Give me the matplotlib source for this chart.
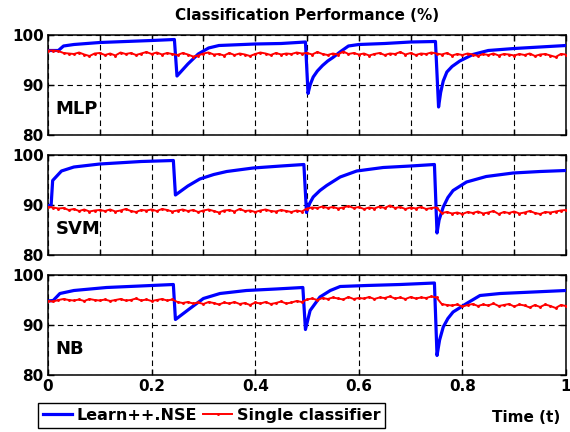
import matplotlib
matplotlib.use("Agg")
import matplotlib.pyplot as plt
import numpy as np

# single classifier: one reading per time step (101 steps)
t_single = np.arange(101) / 100

mlp_single = [96.9, 96.9, 96.8, 96.4, 96.3, 96.2, 96.5, 96.1, 95.8, 96.3,
              96.4, 96.0, 96.3, 95.9, 96.5, 96.2, 96.4, 96.0, 96.3, 96.6,
              96.2, 96.5, 96.1, 96.4, 96.2, 96.0, 96.4, 96.1, 95.7, 95.9,
              96.3, 96.5, 96.1, 96.2, 95.9, 96.4, 96.0, 96.3, 96.1, 95.8,
              96.2, 96.5, 96.3, 96.0, 96.4, 96.1, 96.3, 96.2, 96.5, 96.3,
              96.4, 96.1, 96.6, 96.2, 96.0, 96.3, 96.1, 96.7, 96.2, 96.4,
              96.1, 96.3, 95.9, 96.2, 96.4, 96.0, 96.3, 96.2, 96.6, 96.1,
              96.4, 96.0, 96.3, 96.2, 96.5, 96.3, 96.1, 96.4, 95.9, 96.2,
              96.0, 96.3, 96.1, 95.8, 96.2, 96.0, 96.3, 95.9, 96.2, 96.1,
              95.9, 96.2, 96.0, 96.3, 95.8, 96.1, 96.2, 95.9, 95.6, 96.2, 96.1]

svm_single = [89.6, 89.5, 89.3, 89.4, 89.0, 89.2, 88.8, 89.1, 88.7, 88.9,
              89.0, 88.8, 89.1, 88.7, 88.9, 89.2, 88.8, 88.6, 89.0, 88.9,
              89.1, 88.8, 89.2, 89.0, 88.7, 88.9, 89.1, 88.8, 89.0, 88.6,
              88.9, 89.1, 88.8, 88.5, 88.9, 89.0, 88.7, 89.2, 88.8, 88.9,
              88.6, 88.9, 89.1, 88.8, 88.7, 89.0, 88.8, 88.6, 88.9, 88.7,
              89.3, 89.5, 89.4, 89.7, 89.4, 89.6, 89.3, 89.5, 89.8, 89.4,
              89.6, 89.2, 89.5, 89.3, 89.7, 89.4, 89.9, 89.4, 89.6, 89.2,
              89.5, 89.3, 89.6, 89.2, 89.4, 89.5, 88.4, 88.6, 88.3, 88.5,
              88.2, 88.6, 88.4, 88.7, 88.3, 88.5, 88.8, 88.2, 88.6, 88.4,
              88.7, 88.3, 88.5, 88.8, 88.4, 88.2, 88.6, 88.5, 88.7, 88.9, 89.0]

nb_single = [94.8, 94.7, 95.0, 95.2, 95.0, 94.9, 95.1, 94.8, 95.2, 95.0,
             94.9, 95.1, 94.8, 95.0, 95.2, 94.9, 95.0, 95.3, 94.9, 95.1,
             94.8, 95.0, 95.2, 94.9, 95.1, 94.6, 94.4, 94.6, 94.3, 94.5,
             94.2, 94.6, 94.4, 94.1, 94.5, 94.3, 94.6, 94.2, 94.4, 94.0,
             94.5, 94.3, 94.6, 94.2, 94.4, 94.7, 94.3, 94.5, 94.8, 94.6,
             95.1, 95.3, 95.0, 95.4, 95.2, 95.5, 95.3, 95.1, 95.6, 95.2,
             95.4, 95.3, 95.6, 95.2, 95.5, 95.4, 95.7, 95.3, 95.5, 95.2,
             95.6, 95.3, 95.5, 95.4, 95.7, 95.5, 94.2, 94.0, 93.9, 94.1,
             93.7, 94.0, 94.2, 93.8, 94.1, 93.9, 94.3, 93.8, 94.0, 94.2,
             93.7, 94.1, 93.9, 93.5, 94.0, 93.6, 94.1, 93.8, 93.4, 94.0, 93.8]

# Learn++.NSE readings (denser around the drift points)
mlp_nse_t = [0, 0.02, 0.03, 0.05, 0.1, 0.15, 0.2, 0.244, 0.249, 0.27, 0.29,
             0.31, 0.33, 0.4, 0.45, 0.497, 0.502, 0.506, 0.512, 0.52, 0.53,
             0.54, 0.55, 0.565, 0.58, 0.6, 0.65, 0.7, 0.748, 0.754, 0.758,
             0.763, 0.77, 0.78, 0.795, 0.82, 0.85, 0.9, 0.95, 1.0]
mlp_nse = [96.9, 96.9, 97.8, 98.1, 98.5, 98.7, 98.9, 99.1, 91.8, 94.2, 96.2,
           97.4, 97.9, 98.2, 98.3, 98.6, 88.3, 90.0, 91.6, 92.8, 93.9,
           94.8, 95.5, 96.7, 97.8, 98.1, 98.3, 98.6, 98.7, 85.6, 88.5,
           90.8, 92.6, 93.7, 94.8, 96.1, 96.9, 97.3, 97.6, 97.9]

svm_nse_t = [0, 0.006, 0.009, 0.026, 0.05, 0.1, 0.18, 0.242, 0.246, 0.27,
             0.293, 0.32, 0.345, 0.396, 0.45, 0.494, 0.499, 0.505, 0.512,
             0.525, 0.538, 0.564, 0.596, 0.647, 0.7, 0.746, 0.751, 0.755,
             0.763, 0.772, 0.782, 0.808, 0.846, 0.898, 0.95, 1.0]
svm_nse = [89.9, 89.9, 94.9, 96.8, 97.6, 98.2, 98.7, 98.9, 92.0, 93.8,
           95.2, 96.1, 96.7, 97.4, 97.8, 98.1, 88.5, 90.3, 91.6,
           92.9, 93.9, 95.6, 96.8, 97.5, 97.8, 98.1, 84.4, 87.0,
           89.6, 91.5, 92.9, 94.6, 95.7, 96.4, 96.7, 96.9]

nb_nse_t = [0, 0.01, 0.023, 0.05, 0.113, 0.178, 0.242, 0.246, 0.274, 0.3,
            0.332, 0.383, 0.44, 0.492, 0.497, 0.506, 0.525, 0.545, 0.564,
            0.615, 0.68, 0.746, 0.751, 0.756, 0.763, 0.772, 0.782, 0.808,
            0.834, 0.873, 0.937, 1.0]
nb_nse = [94.8, 94.9, 96.3, 96.9, 97.5, 97.8, 98.1, 91.1, 93.3, 95.3,
          96.3, 96.9, 97.2, 97.5, 89.1, 92.9, 95.6, 96.9, 97.7,
          97.9, 98.1, 98.4, 83.9, 87.0, 89.6, 91.3, 92.6, 94.3,
          95.9, 96.3, 96.6, 96.9]

panels = ["MLP", "SVM", "NB"]
nse_t = [mlp_nse_t, svm_nse_t, nb_nse_t]
nse_vals = [mlp_nse, svm_nse, nb_nse]
single_vals = [mlp_single, svm_single, nb_single]

plt.rcParams["font.family"] = ["DejaVu Sans"]
plt.rcParams["font.weight"] = "bold"

W, H = 570, 432
fig = plt.figure(figsize=(W / 100, H / 100), dpi=100)

left, width, height = 48 / W, 518 / W, 100 / H
bottoms = [1 - 135 / H, 1 - 255 / H, 1 - 375 / H]

axes = []
for i, name in enumerate(panels):
    ax = fig.add_axes([left, bottoms[i], width, height])
    ax.plot(nse_t[i], nse_vals[i], color="#0000ff", lw=2.3, zorder=3,
            label="Learn++.NSE")
    ax.plot(t_single, single_vals[i], color="#ff0000", lw=1.4, marker=".",
            markersize=2.2, zorder=4, label="Single classifier")
    ax.set_xlim(0, 1)
    ax.set_ylim(80, 100)
    ax.set_yticks([80, 90, 100])
    if i < 2:
        ax.set_xticks(np.arange(0, 1.01, 0.1))
        ax.set_xticklabels([])
    else:
        ax.set_xticks(np.arange(0, 1.01, 0.2))
        ax.set_xticklabels(["0", "0.2", "0.4", "0.6", "0.8", "1"])
    ax.grid(True, color="k", ls=(0, (5, 3.5)), lw=0.8)
    ax.tick_params(direction="in", top=True, right=True, length=4, width=1,
                   labelsize=11, pad=3)
    for sp in ax.spines.values():
        sp.set_linewidth(1.1)
    ax.text(0.014, 0.26, name, transform=ax.transAxes, fontsize=13,
            fontweight="bold", va="center", ha="left")
    axes.append(ax)

fig.text(307 / W, 1 - 15 / H, "Classification Performance (%)", fontsize=11,
         fontweight="bold", ha="center", va="center")

handles, labels = axes[2].get_legend_handles_labels()
leg = fig.legend(handles, labels, loc="upper left",
                 bbox_to_anchor=(38 / W, 1 - 403 / H), ncol=2, frameon=True,
                 fancybox=False, edgecolor="k", framealpha=1, fontsize=11.5,
                 handlelength=1.8, handletextpad=0.3, columnspacing=0.4,
                 borderpad=0.3, borderaxespad=0)
leg.get_frame().set_linewidth(1)

fig.text(560 / W, 1 - 417 / H, "Time (t)", fontsize=11, fontweight="bold",
         ha="right", va="center")

fig.savefig("out.png", dpi=100)
